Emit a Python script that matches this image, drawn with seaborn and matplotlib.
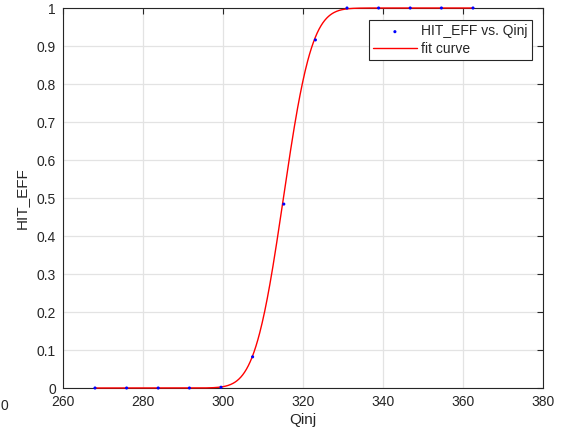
import numpy as np
import pandas as pd
import matplotlib
matplotlib.use("Agg")
import matplotlib.pyplot as plt
import seaborn as sns
from math import erf, sqrt

# data
qinj = [268.0, 275.9, 283.8, 291.6, 299.5, 307.4, 315.2, 323.1, 331.0, 338.9, 346.8, 354.6, 362.5]
hit_eff = [0.0, 0.0, 0.0, 0.0, 0.002, 0.082, 0.484, 0.916, 1.0, 1.0, 1.0, 1.0, 1.0]
# fitted error-function parameters
fit_mu = 315.1
fit_sigma = 5.6
x_ticks = [260, 280, 300, 320, 340, 360, 380]
y_ticks = [0, 0.1, 0.2, 0.3, 0.4, 0.5, 0.6, 0.7, 0.8, 0.9, 1.0]
y_tick_labels = ["0", "0.1", "0.2", "0.3", "0.4", "0.5", "0.6", "0.7", "0.8", "0.9", "1"]

sns.set_theme(style="white")
plt.rcParams["font.family"] = ["Liberation Sans", "DejaVu Sans"]

fig = plt.figure(figsize=(5.62, 4.34), dpi=100)
ax = fig.add_axes([63 / 562, 46 / 434, 480 / 562, 380 / 434])

pts = pd.DataFrame({"Qinj": qinj, "HIT_EFF": hit_eff})
xs = np.linspace(qinj[0], qinj[-1], 600)
ys = [0.5 * (1 + erf((v - fit_mu) / (fit_sigma * sqrt(2)))) for v in xs]
curve = pd.DataFrame({"Qinj": xs, "HIT_EFF": ys})

sns.lineplot(data=curve, x="Qinj", y="HIT_EFF", ax=ax, color="red", linewidth=1.0,
             label="fit curve", zorder=3, clip_on=False)
sns.scatterplot(data=pts, x="Qinj", y="HIT_EFF", ax=ax, color="blue", marker="o", s=5,
                edgecolor="none", label="HIT_EFF vs. Qinj", zorder=4, clip_on=False)

ax.set_xlim(260, 380)
ax.set_ylim(0, 1)
ax.set_xticks(x_ticks)
ax.set_xticklabels([str(t) for t in x_ticks])
ax.set_yticks(y_ticks)
ax.set_yticklabels(y_tick_labels)
ax.grid(True, color="#e3e3e3", linewidth=0.9)
ax.set_axisbelow(True)
spine_c = "#262626"
for s in ax.spines.values():
    s.set_visible(True)
    s.set_color(spine_c)
    s.set_linewidth(0.8)
    s.set_zorder(2.5)
ax.tick_params(direction="in", top=True, right=True, length=4, width=0.8,
               color=spine_c, labelsize=10, labelcolor="#262626", pad=5)
ax.set_xlabel("Qinj", fontsize=11, color="#262626", labelpad=3)
ax.set_ylabel("HIT_EFF", fontsize=11, color="#262626", labelpad=6)

handles, labels = ax.get_legend_handles_labels()
order = [labels.index("HIT_EFF vs. Qinj"), labels.index("fit curve")]
leg = ax.legend([handles[i] for i in order], [labels[i] for i in order],
                loc="upper right", bbox_to_anchor=(0.977, 0.968), borderaxespad=0,
                fontsize=10, frameon=True, fancybox=False, framealpha=1,
                edgecolor="#262626", handlelength=3.2, handletextpad=0.3,
                borderpad=0.3, labelspacing=0.25, markerscale=1.0)
leg.get_frame().set_linewidth(0.8)
leg.set_zorder(5)
for t in leg.get_texts():
    t.set_color("#262626")

fig.text(4 / 562, 1 - 406 / 434, "0", fontsize=10, color="#262626", ha="center", va="center")

fig.savefig("out.png", dpi=100)
